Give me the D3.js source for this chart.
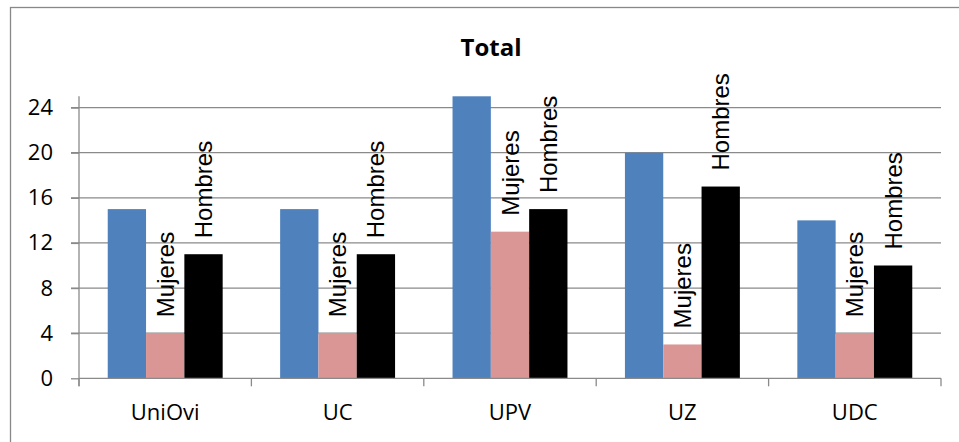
<!DOCTYPE html>
<html>
<head>
<meta charset="utf-8">
<script src="https://cdn.jsdelivr.net/npm/d3@7"></script>
<style>
  body { margin: 0; background: #fff; }
  svg { display: block; }
</style>
</head>
<body>
<div id="chart"></div>
<script>
// chart data
var universities = ["UniOvi", "UC", "UPV", "UZ", "UDC"];
var series = ["Total", "Mujeres", "Hombres"];
var totalValues = [15, 15, 25, 20, 14];
var mujeresValues = [4, 4, 13, 3, 4];
var hombresValues = [11, 11, 15, 17, 10];
var yTicks = [0, 4, 8, 12, 16, 20, 24];

var colors = { "Total": "#4f81bd", "Mujeres": "#d99694", "Hombres": "#000000" };
var showLabel = { "Total": false, "Mujeres": true, "Hombres": true };

var width = 959, height = 442;
var plot = { left: 79, right: 941, top: 96.3, bottom: 378.3 };

var rows = universities.map(function (u, i) {
    return { name: u, values: { "Total": totalValues[i], "Mujeres": mujeresValues[i], "Hombres": hombresValues[i] } };
});

var svg = d3.select("#chart").append("svg")
    .attr("width", width)
    .attr("height", height);

// outer chart border (right and bottom edges fall outside the picture)
svg.append("rect")
    .attr("x", 10.5).attr("y", 7.5)
    .attr("width", 980).attr("height", 460)
    .attr("fill", "none")
    .attr("stroke", "#888")
    .attr("stroke-width", 1.3);

var x = d3.scaleBand()
    .domain(universities)
    .range([plot.left, plot.right]);

var step = x.bandwidth();
var barW = step / (3 + 1.5);
var x1 = d3.scaleBand()
    .domain(series)
    .range([barW * 0.75, step - barW * 0.75]);

var y = d3.scaleLinear()
    .domain([0, 25])
    .range([plot.bottom, plot.top]);

// gridlines
svg.append("g")
    .selectAll("line")
    .data(yTicks.filter(function (d) { return d > 0; }))
    .enter().append("line")
    .attr("x1", plot.left - 8).attr("x2", plot.right)
    .attr("y1", function (d) { return y(d); })
    .attr("y2", function (d) { return y(d); })
    .attr("stroke", "#8a8a8a")
    .attr("stroke-width", 1.3);

// bars
var groups = svg.append("g")
    .selectAll("g")
    .data(rows)
    .enter().append("g")
    .attr("transform", function (d) { return "translate(" + x(d.name) + ",0)"; });

groups.selectAll("rect")
    .data(function (d) { return series.map(function (s) { return { key: s, value: d.values[s] }; }); })
    .enter().append("rect")
    .attr("x", function (d) { return x1(d.key); })
    .attr("width", x1.bandwidth())
    .attr("y", function (d) { return y(d.value); })
    .attr("height", function (d) { return y(0) - y(d.value); })
    .attr("fill", function (d) { return colors[d.key]; });

// rotated series labels above bars
groups.selectAll("text")
    .data(function (d) {
        return series.filter(function (s) { return showLabel[s]; })
            .map(function (s) { return { key: s, value: d.values[s] }; });
    })
    .enter().append("text")
    .attr("transform", function (d) {
        var cx = x1(d.key) + x1.bandwidth() / 2 + 8.5;
        return "translate(" + cx + "," + (y(d.value) - 16) + ") rotate(-90)";
    })
    .attr("font-family", "'Liberation Sans', Arial, sans-serif")
    .attr("font-size", 24)
    .attr("fill", "#000")
    .text(function (d) { return d.key; });

// y axis
var yAxis = svg.append("g")
    .attr("transform", "translate(" + plot.left + ",0)")
    .call(d3.axisLeft(y).tickValues(yTicks).tickSize(8).tickPadding(18).tickFormat(d3.format("d")));
yAxis.select(".domain").attr("d", "M0," + plot.top + "V" + (plot.bottom + 8));

// x axis
var xAxis = svg.append("g")
    .attr("transform", "translate(0," + plot.bottom + ")");
xAxis.append("line")
    .attr("x1", plot.left).attr("x2", plot.right)
    .attr("stroke", "#8a8a8a").attr("stroke-width", 1.3);
xAxis.selectAll(".tick")
    .data(universities.concat(["end"]))
    .enter().append("line")
    .attr("x1", function (d, i) { return plot.left + i * step; })
    .attr("x2", function (d, i) { return plot.left + i * step; })
    .attr("y1", 0).attr("y2", 8)
    .attr("stroke", "#8a8a8a").attr("stroke-width", 1.3);
xAxis.selectAll("text")
    .data(universities)
    .enter().append("text")
    .attr("x", function (d) { return x(d) + step / 2; })
    .attr("y", 42)
    .attr("text-anchor", "middle")
    .attr("font-family", "'Open Sans', sans-serif")
    .attr("font-size", 22)
    .attr("fill", "#000")
    .text(function (d) { return d; });

yAxis.selectAll("path, line").attr("stroke", "#8a8a8a").attr("stroke-width", 1.3);
yAxis.selectAll("text")
    .attr("font-family", "'Open Sans', sans-serif")
    .attr("font-size", 22)
    .attr("fill", "#000");

// title
svg.append("text")
    .attr("x", 491).attr("y", 56)
    .attr("text-anchor", "middle")
    .attr("font-family", "'Open Sans', sans-serif")
    .attr("font-weight", "bold")
    .attr("font-size", 24)
    .attr("fill", "#000")
    .text("Total");
</script>
</body>
</html>
